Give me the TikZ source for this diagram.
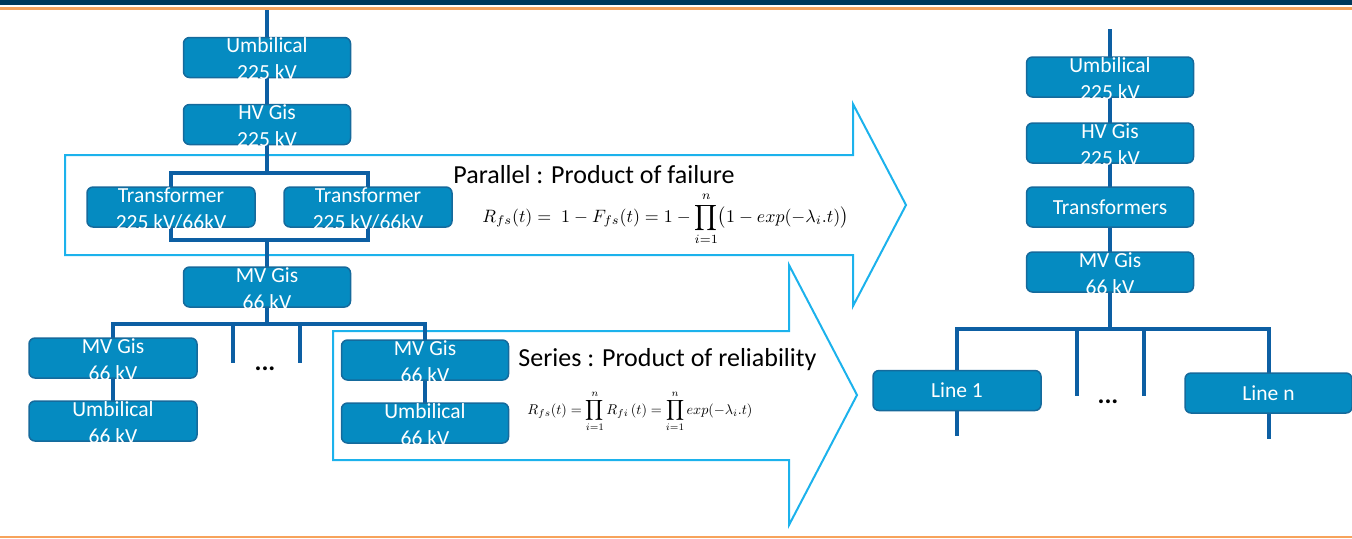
\documentclass[tikz,border=0pt]{standalone}
\usepackage{graphicx}
\usepackage{fontspec}
\setmainfont{Carlito}
\usetikzlibrary{backgrounds}
\definecolor{boxfill}{HTML}{058BC1}
\definecolor{boxedge}{HTML}{156A9C}
\definecolor{wire}{HTML}{0D5FA3}
\definecolor{arrowline}{HTML}{1CB2EC}
\definecolor{navy}{HTML}{00385A}
\definecolor{rulecol}{HTML}{F7A35C}
% two-line label that may spill over the box edges without growing the box
\newcommand\twolines[2]{\smash{\raisebox{-4.5pt}{\begin{tabular}{@{}c@{}}#1\\#2\end{tabular}}}}
\begin{document}
\begin{tikzpicture}[x=0.5pt,y=-0.5pt,
  unit/.style={draw=boxedge, line width=0.75pt, fill=boxfill, rounded corners=3pt,
    minimum width=83.5pt, minimum height=20pt, inner sep=0pt, text=white,
    font=\fontsize{10.75}{13.5}\selectfont},
  wireline/.style={draw=wire, line width=2pt, line cap=rect},
  flow/.style={draw=arrowline, line width=1pt, line join=miter},
  caption/.style={font=\fontsize{13}{15}\selectfont, anchor=base west, inner sep=0pt},
  formula/.style={anchor=base west, inner sep=0pt},
  dots/.style={font=\fontsize{13}{15}\selectfont\bfseries, inner sep=0pt}]
\useasboundingbox (0,0) rectangle (1352,538);

% page rules
\fill[navy] (0,0) rectangle (1352,4.5);
\draw[rulecol, line width=1.25pt] (0,8.7) -- (1352,8.7);
\draw[rulecol, line width=0.75pt] (0,536.8) -- (1352,536.8);

% ---------- detailed substation (left) ----------
\node[unit] (u1) at (267,57.5) {\twolines{Umbilical}{225 kV}};
\node[unit] (hv1) at (267,124.5) {\twolines{HV Gis}{225 kV}};
\node[unit, minimum width=84pt] (tA) at (171,207) {\twolines{Transformer}{225 kV/66kV}};
\node[unit, minimum width=84pt] (tB) at (368,207) {\twolines{Transformer}{225 kV/66kV}};
\node[unit] (mv1) at (267,287) {\twolines{MV Gis}{66 kV}};
\node[unit, minimum width=84pt] (mvA) at (113,358) {\twolines{MV Gis}{66 kV}};
\node[unit, minimum width=84pt] (umA) at (113,421) {\twolines{Umbilical}{66 kV}};
\node[unit] (mvB) at (425,360) {\twolines{MV Gis}{66 kV}};
\node[unit] (umB) at (425,423) {\twolines{Umbilical}{66 kV}};
\node[dots] (dL) at (265,369) {...};

% ---------- reduced model (right) ----------
\node[unit] (u2) at (1110,77) {\twolines{Umbilical}{225 kV}};
\node[unit] (hv2) at (1110,143) {\twolines{HV Gis}{225 kV}};
\node[unit] (tr2) at (1110,207) {Transformers};
\node[unit] (mv2) at (1110,272) {\twolines{MV Gis}{66 kV}};
\node[unit, minimum width=84pt] (l1) at (957,390.5) {Line 1};
\node[unit] (ln) at (1268.5,393) {Line n};
\node[dots] (dR) at (1108,402) {...};

% ---------- rules and formulas ----------
\node[caption] (parT) at (453,183) {Parallel : Product of failure};
\node[formula] (parF) at (482,222) {\resizebox{183pt}{!}{$\displaystyle R_{fs}(t) =\; 1 - F_{fs}(t) = 1 - \prod_{i=1}^{n}\bigl(1 - exp(-\lambda_i.t)\bigr)$}};
\node[caption] (serT) at (518,366) {Series : Product of reliability};
\node[formula] (serF) at (527,414) {\resizebox{112.5pt}{!}{$\displaystyle R_{fs}(t) = \prod_{i=1}^{n} R_{fi}\,(t) = \prod_{i=1}^{n} exp(-\lambda_i.t)$}};

% connector end points
\coordinate (feedL) at (267,12);
\coordinate (brTop) at (267,173);
\coordinate (brBot) at (267,240);
\coordinate (busL) at (267,324);
\coordinate (sA) at (233,324);
\coordinate (sAe) at (233,361);
\coordinate (sB) at (300,324);
\coordinate (sBe) at (300,361);
\coordinate (feedR) at (1110,31);
\coordinate (busR) at (1110,329);
\coordinate (sC) at (1077,331);
\coordinate (sCe) at (1077,394);
\coordinate (sD) at (1144,331);
\coordinate (sDe) at (1144,394);
\coordinate (l1e) at (957,434);
\coordinate (lne) at (1268.5,437);

\begin{scope}[on background layer]
  % grouping arrows
  \draw[flow] (65,155) -- (853,155) -- (853,104) -- (906,205) -- (853,306)
    -- (853,255) -- (65,255) -- cycle;
  \draw[flow] (333,331) -- (789,331) -- (789,265) -- (857,395) -- (789,525)
    -- (789,460) -- (333,460) -- cycle;
  % left tree
  \draw[wireline] (feedL) -- (u1);
  \draw[wireline] (u1) -- (hv1);
  \draw[wireline] (hv1) -- (brTop);
  \draw[wireline] (tA |- brTop) -- (tB |- brTop) -- (tB |- brBot) -- (tA |- brBot) -- cycle;
  \draw[wireline] (brBot) -- (mv1);
  \draw[wireline] (mv1) -- (busL);
  \draw[wireline] (mvA |- busL) -- (mvB |- busL);
  \draw[wireline] (mvA |- busL) -- (mvA);
  \draw[wireline] (mvB |- busL) -- (mvB);
  \draw[wireline] (sA) -- (sAe);
  \draw[wireline] (sB) -- (sBe);
  \draw[wireline] (mvA) -- (umA);
  \draw[wireline] (mvB) -- (umB);
  % right tree
  \draw[wireline] (feedR) -- (u2);
  \draw[wireline] (u2) -- (hv2);
  \draw[wireline] (hv2) -- (tr2);
  \draw[wireline] (tr2) -- (mv2);
  \draw[wireline] (mv2) -- (busR);
  \draw[wireline] (l1 |- busR) -- (ln |- busR);
  \draw[wireline] (l1 |- busR) -- (l1);
  \draw[wireline] (ln |- busR) -- (ln);
  \draw[wireline] (sC) -- (sCe);
  \draw[wireline] (sD) -- (sDe);
  \draw[wireline] (l1) -- (l1e);
  \draw[wireline] (ln) -- (lne);
\end{scope}
\end{tikzpicture}
\end{document}
